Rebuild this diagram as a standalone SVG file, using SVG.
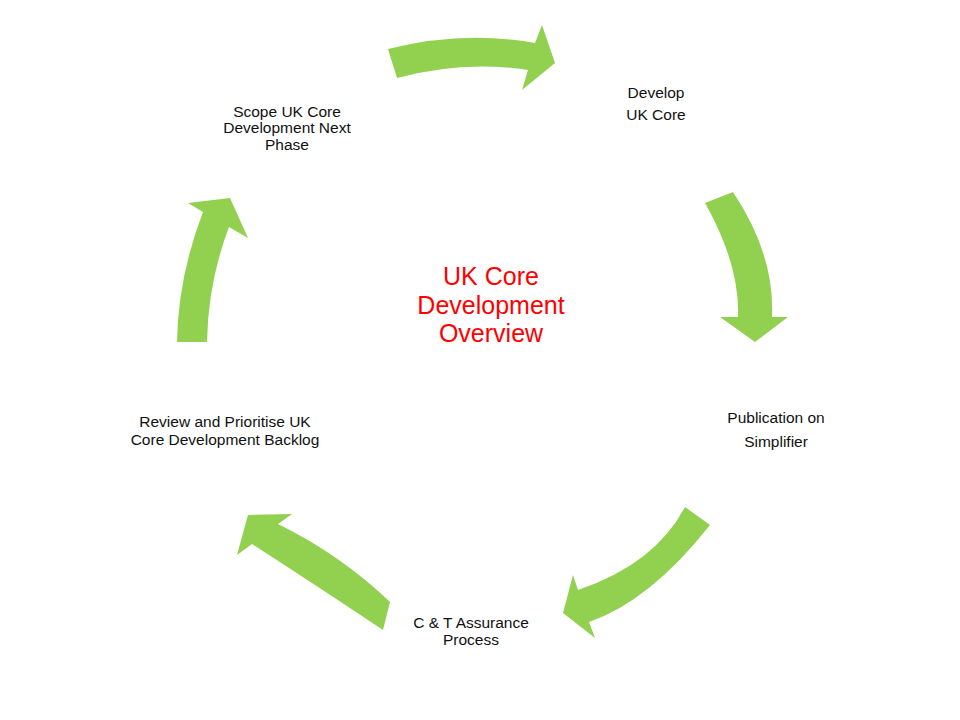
<svg xmlns="http://www.w3.org/2000/svg" width="960" height="720" viewBox="0 0 960 720">
<style>
.arrow{fill:#92D050;stroke:none}
.lbl{font-family:"Liberation Sans",Arial,sans-serif;font-size:15.5px;fill:#111111;text-anchor:middle}
.title{font-family:"Liberation Sans",Arial,sans-serif;font-size:25px;fill:#FF0000;text-anchor:middle}
</style>
<rect width="960" height="720" fill="#ffffff"/>
<g id="connectors">
<path id="arrow-top" class="arrow" d="M388,49 Q463,30 535,43 L542,25 L555,63 L522,90 L528,70 Q463,60 397,78 Z"/>
<path id="arrow-right" class="arrow" d="M705,203 L733,192 Q775,255 772,317 L788,317 L755,342 L720,317 L738,317 Q740,265 705,203 Z"/>
<path id="arrow-bottom-right" class="arrow" d="M710,525 Q650,601 589,622 L595,638 L563,613 L573,575 L578,590 Q655,564 685,507 Z"/>
<path id="arrow-bottom-left" class="arrow" d="M390,602 Q341,555 278,524 L292,514 L248,515 L237,555 L252,544 Q320,588 383,630 Z"/>
<path id="arrow-left" class="arrow" d="M177,342 Q178,277 203,212 L188,203 L230,198 L248,238 L229,227 Q208,282 207,342 Z"/>
</g>
<g id="node-center">
<text class="title" x="491" y="285">UK Core</text>
<text class="title" x="491" y="314">Development</text>
<text class="title" x="491" y="342">Overview</text>
</g>
<g id="node-develop">
<text class="lbl" x="656" y="98">Develop</text>
<text class="lbl" x="656" y="120">UK Core</text>
</g>
<g id="node-publication">
<text class="lbl" x="776" y="423">Publication on</text>
<text class="lbl" x="776" y="447">Simplifier</text>
</g>
<g id="node-assurance">
<text class="lbl" x="471" y="628">C &amp; T Assurance</text>
<text class="lbl" x="471" y="645">Process</text>
</g>
<g id="node-review">
<text class="lbl" x="225" y="427">Review and Prioritise UK</text>
<text class="lbl" x="225" y="445">Core Development Backlog</text>
</g>
<g id="node-scope">
<text class="lbl" x="287" y="117">Scope UK Core</text>
<text class="lbl" x="287" y="133">Development Next</text>
<text class="lbl" x="287" y="150">Phase</text>
</g>
</svg>
